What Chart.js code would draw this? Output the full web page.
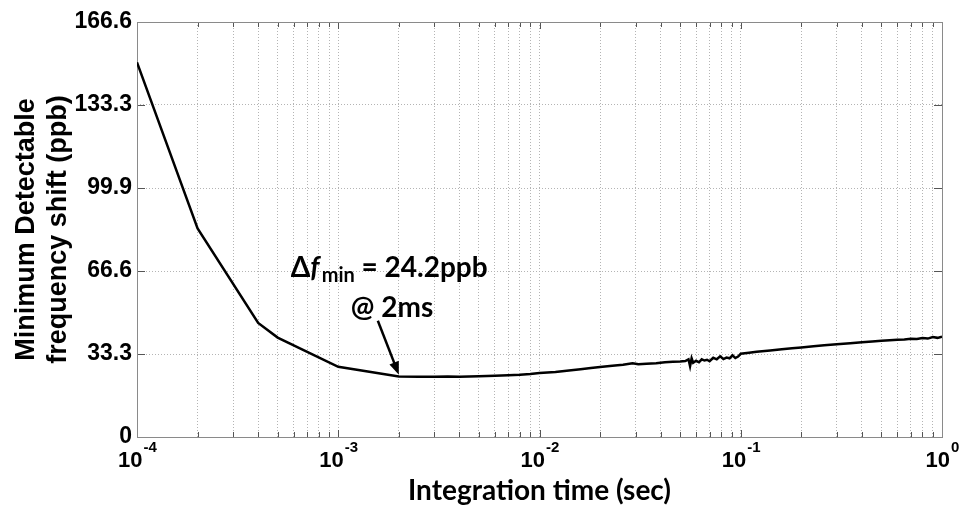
<!DOCTYPE html>
<html>
<head>
<meta charset="utf-8">
<script src="https://cdn.jsdelivr.net/npm/chart.js@4/dist/chart.umd.min.js"></script>
<style>
  html, body { margin: 0; padding: 0; background: #fff; }
  #main-chart { display: block; }
</style>
</head>
<body>
<canvas id="main-chart" width="961" height="514"></canvas>
<script>
// integration time (sec)
var tau = [
  1e-4, 2e-4, 4e-4, 5e-4, 1e-3,
  2e-3, 2.5e-3, 3e-3, 3.5e-3, 4e-3, 5e-3, 6e-3, 7e-3, 8e-3, 9e-3,
  1e-2, 1.2e-2, 1.4e-2, 1.6e-2, 1.8e-2, 2e-2, 2.3e-2, 2.6e-2, 2.9e-2, 3.1e-2,
  3.4e-2, 3.8e-2, 4.2e-2, 4.6e-2, 5e-2, 5.3e-2, 5.5e-2, 5.6e-2, 5.7e-2, 5.8e-2,
  6e-2, 6.2e-2, 6.4e-2, 6.6e-2, 6.8e-2, 7e-2, 7.3e-2, 7.6e-2, 7.9e-2, 8.2e-2,
  8.5e-2, 8.8e-2, 9.1e-2, 9.4e-2, 9.7e-2,
  0.1, 0.11, 0.12, 0.14, 0.16, 0.18, 0.2, 0.23, 0.26, 0.3,
  0.35, 0.4, 0.45, 0.5, 0.55, 0.6, 0.65, 0.7, 0.75, 0.8,
  0.85, 0.9, 0.95, 1.0
];
// minimum detectable frequency shift (ppb)
var shift = [
  150.4, 83.7, 45.8, 39.9, 28.2,
  24.3, 24.2, 24.2, 24.3, 24.2, 24.4, 24.6, 24.8, 25.0, 25.3,
  25.7, 26.1, 26.7, 27.2, 27.7, 28.1, 28.6, 29.0, 29.6, 29.2,
  29.4, 29.6, 30.0, 30.2, 30.3, 30.5, 31.2, 28.4, 31.6, 29.8,
  30.6, 30.0, 31.2, 30.7, 31.0, 30.4, 31.8, 31.2, 32.4, 31.3,
  31.9, 31.6, 32.8, 31.7, 32.3,
  33.4, 33.8, 34.2, 34.7, 35.2, 35.6, 35.9, 36.4, 36.8, 37.2,
  37.6, 38.0, 38.3, 38.6, 38.8, 39.0, 39.1, 39.4, 39.3, 39.7,
  39.5, 40.1, 39.8, 40.3
];
var yTicks = [0, 33.3, 66.6, 99.9, 133.3, 166.6];
var xDecades = [-4, -3, -2, -1, 0];
var minPoint = { tau: 2e-3, value: 24.2 };

var gridColor = '#b4b4b4';

// all log grid positions 1..9 x 10^k
function logTicks() {
  var out = [];
  for (var k = -4; k < 0; k++) {
    for (var m = 1; m < 10; m++) out.push({ value: m * Math.pow(10, k) });
  }
  out.push({ value: 1 });
  return out;
}

var framePlugin = {
  id: 'frame',
  beforeDatasetsDraw: function (chart) {
    var ctx = chart.ctx, a = chart.chartArea;
    var xs = chart.scales.x, ys = chart.scales.y;
    ctx.save();
    ctx.strokeStyle = '#555';
    ctx.lineWidth = 1;
    ctx.beginPath();
    xs.ticks.forEach(function (t) {
      var px = Math.round(xs.getPixelForValue(t.value)) + 0.5;
      var major = Math.abs(Math.log10(t.value) - Math.round(Math.log10(t.value))) < 1e-9;
      var len = major ? 7 : 5;
      ctx.moveTo(px, a.bottom); ctx.lineTo(px, a.bottom - len);
      ctx.moveTo(px, a.top); ctx.lineTo(px, a.top + len);
    });
    ys.ticks.forEach(function (t) {
      var py = Math.round(ys.getPixelForValue(t.value)) + 0.5;
      ctx.moveTo(a.left, py); ctx.lineTo(a.left + 8, py);
      ctx.moveTo(a.right, py); ctx.lineTo(a.right - 8, py);
    });
    ctx.stroke();
    ctx.strokeStyle = '#8a8a8a';
    ctx.strokeRect(Math.round(a.left) + 0.5, Math.round(a.top) + 0.5,
      Math.round(a.right - a.left), Math.round(a.bottom - a.top));
    ctx.restore();
  },
  afterDraw: function (chart) {
    var ctx = chart.ctx, a = chart.chartArea;
    var xs = chart.scales.x, ys = chart.scales.y;
    ctx.save();
    ctx.fillStyle = '#000';
    ctx.textBaseline = 'alphabetic';

    // x tick labels 10^k
    xDecades.forEach(function (k) {
      var px = xs.getPixelForValue(Math.pow(10, k));
      var exp = k === 0 ? '0' : '-' + Math.abs(k);
      ctx.font = 'bold 22px "Liberation Sans", Arial, sans-serif';
      var wBase = ctx.measureText('10').width;
      ctx.font = 'bold 15px "Liberation Sans", Arial, sans-serif';
      var wExp = ctx.measureText(exp).width;
      var x0 = px - (wBase + wExp) / 2;
      ctx.font = 'bold 22px "Liberation Sans", Arial, sans-serif';
      ctx.fillText('10', x0, a.bottom + 30);
      ctx.font = 'bold 15px "Liberation Sans", Arial, sans-serif';
      ctx.fillText(exp, x0 + wBase + 1, a.bottom + 15);
    });

    // annotation for the minimum
    var tipX = xs.getPixelForValue(minPoint.tau);
    var tipY = ys.getPixelForValue(minPoint.value);
    var x = tipX - 108, base1 = tipY - 100;
    ctx.font = 'bold 28px Lato, "Open Sans", sans-serif';
    ctx.fillText('\u0394', x, base1);
    x += ctx.measureText('\u0394').width;
    ctx.font = 'italic bold 28px Lato, "Open Sans", sans-serif';
    ctx.fillText('f', x, base1);
    x += ctx.measureText('f').width + 2;
    ctx.font = 'bold 20px Lato, "Open Sans", sans-serif';
    ctx.fillText('min', x, base1 + 5);
    x += ctx.measureText('min').width;
    ctx.font = 'bold 28px Lato, "Open Sans", sans-serif';
    ctx.fillText(' = 24.2ppb', x, base1);
    ctx.fillText('@ 2ms', tipX - 48, tipY - 60);

    // arrow
    var sx = tipX - 21, sy = tipY - 56, ex = tipX, ey = tipY - 2;
    var ang = Math.atan2(ey - sy, ex - sx);
    ctx.strokeStyle = '#000';
    ctx.lineWidth = 2.5;
    ctx.beginPath();
    ctx.moveTo(sx, sy);
    ctx.lineTo(ex - 10 * Math.cos(ang), ey - 10 * Math.sin(ang));
    ctx.stroke();
    ctx.beginPath();
    ctx.moveTo(ex, ey);
    ctx.lineTo(ex - 13 * Math.cos(ang) + 5 * Math.sin(ang), ey - 13 * Math.sin(ang) - 5 * Math.cos(ang));
    ctx.lineTo(ex - 13 * Math.cos(ang) - 5 * Math.sin(ang), ey - 13 * Math.sin(ang) + 5 * Math.cos(ang));
    ctx.closePath();
    ctx.fill();
    ctx.restore();
  }
};

var points = tau.map(function (t, i) { return { x: t, y: shift[i] }; });

var chart = new Chart(document.getElementById('main-chart'), {
  type: 'line',
  data: {
    datasets: [{
      data: points,
      borderColor: '#000',
      borderWidth: 2.5,
      pointRadius: 0,
      tension: 0,
      fill: false
    }]
  },
  options: {
    responsive: false,
    animation: false,
    events: [],
    layout: { padding: { top: 22, right: 19, left: 0, bottom: 0 } },
    plugins: { legend: { display: false }, tooltip: { enabled: false } },
    scales: {
      x: {
        type: 'logarithmic',
        min: 1e-4,
        max: 1,
        afterBuildTicks: function (scale) { scale.ticks = logTicks(); },
        afterFit: function (scale) { scale.height = 77; },
        ticks: { display: false },
        grid: { color: gridColor, lineWidth: 1, drawTicks: false },
        border: { display: false, dash: [1, 2] },
        title: {
          display: true,
          text: 'Integration time (sec)',
          color: '#000',
          font: { family: 'Lato, "Open Sans", sans-serif', size: 28, weight: 'bold' },
          padding: { top: 0, bottom: 6 }
        }
      },
      y: {
        min: 0,
        max: 166.6,
        afterBuildTicks: function (scale) {
          scale.ticks = yTicks.map(function (v) { return { value: v }; });
        },
        afterFit: function (scale) { scale.width = 137; },
        ticks: {
          color: '#000',
          padding: 5,
          font: { family: '"Liberation Sans", Arial, sans-serif', size: 23, weight: 'bold' },
          callback: function (v) { return v === 0 ? '0' : v.toFixed(1); }
        },
        grid: { color: gridColor, lineWidth: 1, drawTicks: false },
        border: { display: false, dash: [1, 2] },
        title: {
          display: true,
          text: ['Minimum Detectable', 'frequency shift (ppb)'],
          color: '#000',
          font: { family: '"Liberation Sans", Arial, sans-serif', size: 27, weight: 'bold', lineHeight: 1.2 },
          padding: { top: 10, bottom: 0 }
        }
      }
    }
  },
  plugins: [framePlugin]
});
</script>
</body>
</html>
